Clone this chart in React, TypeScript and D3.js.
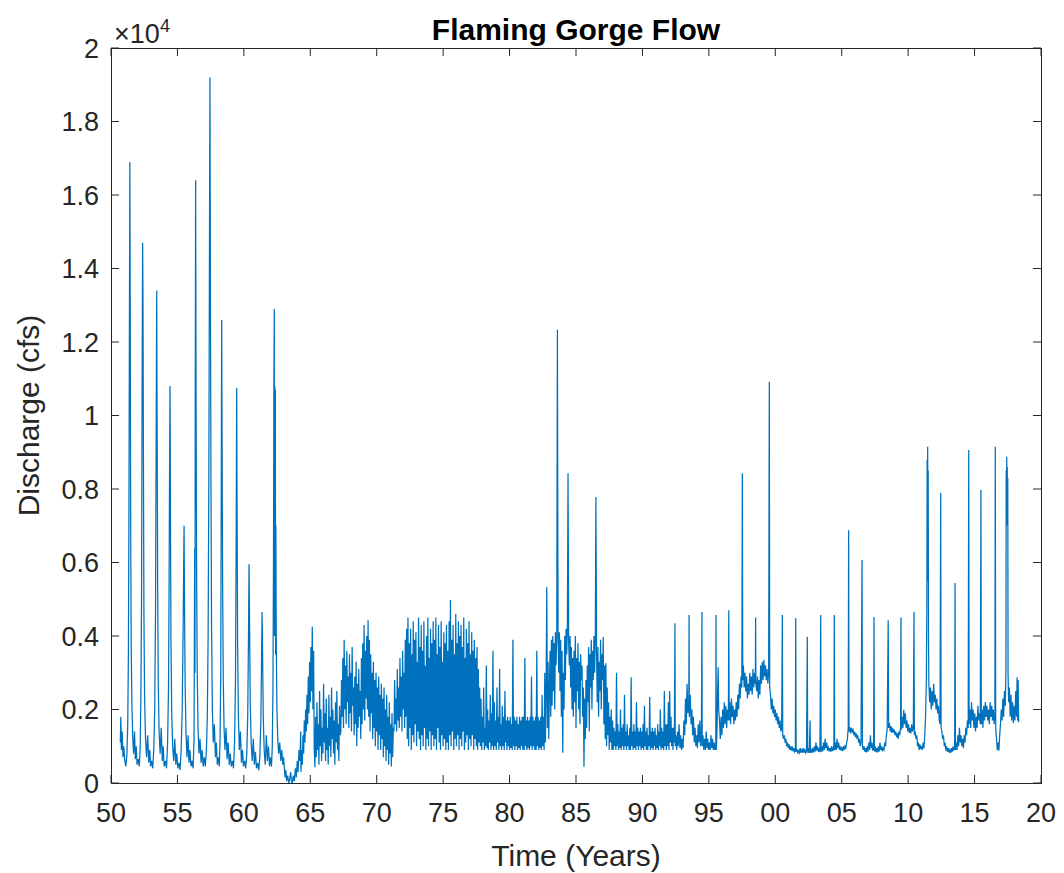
import React from "react";
import * as d3 from "d3";

// ---------- DATA (year, discharge cfs) ----------
// Pre-dam era (snowmelt peaks)
const preDam: [number, number][] = [
  [1950.70, 1100],[1950.74, 1800],[1950.78, 900],[1950.84, 1400],[1950.90, 700],[1950.96, 1000],
  [1951.04, 600],[1951.12, 450],[1951.20, 800],[1951.26, 1600],[1951.31, 3500],[1951.35, 7500],[1951.39, 13000],[1951.42, 16900],[1951.45, 12500],[1951.48, 7000],[1951.52, 3800],[1951.57, 2200],[1951.63, 1300],[1951.70, 800],[1951.77, 1400],[1951.83, 650],[1951.90, 1000],[1951.96, 500],
  [1952.05, 650],[1952.13, 450],[1952.20, 1000],[1952.25, 2400],[1952.30, 5000],[1952.34, 10500],[1952.38, 14700],[1952.41, 13000],[1952.44, 9000],[1952.48, 4500],[1952.53, 2300],[1952.60, 1200],[1952.68, 700],[1952.76, 1300],[1952.84, 550],[1952.92, 900],[1952.98, 450],
  [1953.06, 600],[1953.14, 400],[1953.22, 900],[1953.29, 2000],[1953.35, 4600],[1953.40, 9500],[1953.44, 13400],[1953.47, 10000],[1953.51, 5500],[1953.56, 2600],[1953.62, 1400],[1953.70, 800],[1953.78, 1500],[1953.86, 600],[1953.93, 1000],
  [1954.00, 450],[1954.10, 600],[1954.18, 400],[1954.26, 1100],[1954.33, 2600],[1954.38, 6000],[1954.42, 9500],[1954.44, 10800],[1954.47, 8000],[1954.51, 4000],[1954.57, 1900],[1954.64, 1000],[1954.72, 600],[1954.80, 1200],[1954.88, 500],[1954.95, 800],
  [1955.03, 400],[1955.12, 550],[1955.20, 350],[1955.28, 900],[1955.36, 2000],[1955.43, 4200],[1955.48, 6300],[1955.50, 7000],[1955.53, 5000],[1955.58, 2700],[1955.64, 1400],[1955.72, 700],[1955.80, 1300],[1955.87, 550],[1955.94, 900],
  [1956.02, 450],[1956.10, 600],[1956.18, 400],[1956.25, 1200],[1956.30, 6400],[1956.32, 3000],[1956.34, 10000],[1956.37, 16400],[1956.40, 11000],[1956.44, 6000],[1956.49, 3000],[1956.55, 1500],[1956.62, 800],[1956.70, 1200],[1956.78, 550],[1956.86, 900],[1956.94, 450],
  [1957.02, 700],[1957.10, 450],[1957.18, 900],[1957.25, 1800],[1957.31, 4000],[1957.36, 8000],[1957.40, 13000],[1957.43, 17000],[1957.45, 19200],[1957.48, 14000],[1957.52, 8500],[1957.57, 4200],[1957.63, 2000],[1957.70, 1100],[1957.78, 1600],[1957.86, 700],[1957.93, 1100],
  [1958.00, 500],[1958.08, 700],[1958.15, 450],[1958.21, 1200],[1958.26, 3000],[1958.30, 8000],[1958.33, 12600],[1958.36, 9500],[1958.40, 5500],[1958.45, 2800],[1958.51, 1500],[1958.58, 900],[1958.66, 1500],[1958.74, 650],[1958.82, 1100],[1958.90, 500],[1958.97, 800],
  [1959.05, 450],[1959.14, 600],[1959.22, 400],[1959.30, 1100],[1959.37, 2800],[1959.42, 6500],[1959.46, 10750],[1959.49, 7500],[1959.53, 3800],[1959.59, 1800],[1959.66, 900],[1959.74, 1400],[1959.82, 550],[1959.90, 900],[1959.97, 450],
  [1960.06, 600],[1960.14, 400],[1960.22, 800],[1960.29, 1800],[1960.35, 4000],[1960.39, 5950],[1960.43, 4300],[1960.48, 2200],[1960.55, 1100],[1960.63, 600],[1960.71, 1200],[1960.79, 500],[1960.87, 850],[1960.95, 400],
  [1961.04, 550],[1961.12, 350],[1961.20, 700],[1961.28, 1700],[1961.33, 3300],[1961.37, 4650],[1961.41, 3500],[1961.46, 1800],[1961.53, 900],[1961.61, 500],[1961.69, 1300],[1961.77, 600],[1961.85, 1000],[1961.93, 450],
  [1962.00, 700],[1962.08, 450],[1962.14, 1000],[1962.19, 2600],[1962.23, 6000],[1962.26, 10700],[1962.29, 12900],[1962.31, 4000],[1962.33, 10800],[1962.35, 5000],[1962.37, 10700],[1962.39, 3500],[1962.41, 7000],[1962.44, 3800],[1962.49, 2000],[1962.55, 1200],[1962.62, 800],[1962.70, 1100],[1962.78, 600],[1962.86, 900],[1962.93, 500],[1962.99, 700],
];

// Dam closure / reservoir filling
const closure: [number, number][] = [
  [1963.05, 400],[1963.10, 150],[1963.16, 350],[1963.22, 50],[1963.30, 200],[1963.38, 0],[1963.45, 100],[1963.52, 300],[1963.58, 50],[1963.65, 0],[1963.72, 200],[1963.80, 50],[1963.88, 400],[1963.95, 150],[1964.02, 600],[1964.08, 300],[1964.15, 900],[1964.22, 600],[1964.28, 1400],
];

// Dense hydropower-fluctuation eras, sampled every 0.05 yr
const sampleStep = 0.05;

const eraAStart = 1964.30;
const eraA: number[] = [
  300, 900, 500, 1300, 800, 1700, 1100, 2000, 1400, 2400, 1600, 2900, 1900, 3300, 2200, 3700, 2500, 4250, 2000, 3600,
  900, 430, 1800, 700, 2200, 900, 1600, 500, 2500, 1000, 2000, 600, 1500, 800, 2700, 1100, 1900, 600, 2300, 900,
  1500, 500, 2400, 1000, 1800, 700, 2600, 1200, 2000, 800, 1700, 500, 2200, 1100, 2500, 900, 1600, 600, 2100, 1300,
  1400, 2800, 1800, 3400, 1500, 3900, 2000, 3200, 1600, 3600, 2200, 2900, 1500, 3500, 1900, 3000, 1400, 3700, 2100, 2600,
  1300, 2900, 1600, 3300, 1000, 2700, 1500, 3100, 1800, 2500, 1200, 3400, 1600, 3800, 2000, 4300, 1700, 3600, 2300, 4000,
  2000, 4430, 1800, 3900, 1400, 3500, 1900, 3000, 1200, 3300, 1500, 2800, 1000, 3000, 1400, 2600, 900, 2900, 1300, 2400,
  900, 2700, 1200, 2300, 700, 2600, 1000, 2000, 600, 2400, 900, 1800, 500, 2200, 800, 1600, 450, 1900, 700, 1500,
  1400, 2800, 1600, 2300, 1400, 3100, 1700, 2600, 1500, 3400, 1800, 2900, 1400, 3600, 2000, 3000, 1500, 3900, 1800, 4200,
];

const eraBStart = 1972.30;
const eraB: number[] = [
  1200, 4500, 1000, 3800, 1500, 4200, 900, 3500, 1300, 4400, 1100, 3900, 1600, 4100, 1000, 3300, 1400, 4500, 1200, 3700,
  900, 4300, 1300, 3600, 1000, 4400, 1500, 3200, 900, 4000, 1200, 4500, 1000, 3400, 1400, 4200, 900, 3800, 1300, 4400,
  1000, 3900, 1200, 4500, 900, 3500, 1500, 4300, 1100, 3700, 900, 4400, 1300, 3300, 1000, 4100, 1200, 3800, 900, 4300,
  1100, 3600, 900, 4400, 1300, 4980, 1000, 3900, 1400, 4300, 900, 3500, 1200, 4600, 1000, 3800, 1300, 4400, 900, 4000,
  1200, 4300, 1000, 3700, 1400, 4500, 900, 3400, 1100, 4200, 1300, 3800, 900, 4400, 1200, 3500, 1000, 4100, 1300, 3600,
  900, 3900, 1200, 3400, 1000, 3700, 900, 3100, 1100, 2600,
];

const eraCStart = 1977.80;
const eraC: number[] = [
  1000, 2300, 900, 1800, 1100, 2600, 900, 1500, 1000, 3200, 950, 2000, 900, 1700, 1100, 2400, 900, 1900, 1000, 3600,
  900, 2200, 1000, 1700, 900, 2600, 1100, 1800, 900, 3100, 1000, 1600, 900, 2100, 1000, 1800, 900, 2500, 1100, 1700,
  900, 1800, 1000, 1700, 900, 1800, 950, 1600, 900, 3900, 1000, 1800, 900, 1700, 1000, 1800, 900, 1600, 950, 1800,
  900, 1700, 1000, 1800, 900, 1800, 900, 3400, 1000, 1700, 900, 1800, 950, 1700, 900, 1800, 1000, 2900, 900, 1800,
  1000, 1700, 900, 1800, 900, 3600, 1000, 1800, 900, 1700, 950, 1800, 900, 2400, 1000, 1800, 900, 3000, 1100, 2500,
];

const eraDStart = 1982.80;
const eraD: number[] = [
  5330, 1500, 3300, 1200, 2600, 3600, 1800, 3900, 2100, 4000, 2500, 3800, 2000, 4100, 3200, 4000, 12330, 4000, 3000, 4100,
  2500, 3900, 1800, 3600, 820, 3000, 2000, 4000, 2800, 4200, 3500, 4100, 8430, 3800, 3200, 4000, 2600, 3700, 2000, 3400,
  1800, 3600, 2200, 4000, 1500, 3400, 2500, 3800, 2000, 3300, 1600, 3500, 2800, 3200, 1800, 2600, 440, 2300, 1200, 2800,
  1500, 3200, 2200, 3700, 1400, 3500, 2600, 3900, 2000, 3600, 2800, 4000, 3000, 3800, 7780, 3500, 2200, 3700, 1800, 3300,
  2500, 3900, 2000, 3500, 2800, 3970, 1600, 3200, 1200, 3260, 1000, 2600, 1300, 2200, 900, 1800, 1100, 2000, 900, 1700,
];

const eraEStart = 1987.80;
const eraE: number[] = [
  900, 1500, 1000, 1400, 900, 3000, 1000, 1600, 900, 1400, 950, 2000, 900, 1500, 1000, 1600, 900, 2400, 1000, 1400,
  900, 1600, 1000, 1300, 900, 1500, 900, 2880, 1000, 1400, 900, 1600, 950, 1400, 900, 2200, 1000, 1500, 900, 1400,
  1000, 1500, 900, 1400, 950, 1600, 900, 2100, 1000, 1400, 900, 1500, 900, 1300, 1000, 2340, 900, 1400, 950, 1500,
  900, 1400, 1000, 1500, 900, 1300, 950, 1600, 900, 1400, 1000, 2000, 900, 1500, 950, 1400, 900, 2500, 1000, 1600,
  900, 1600, 1000, 2200, 900, 2500, 1100, 1800, 1000, 1500, 900,
];

// Post-1992 operations
const modern: [number, number][] = [
  [1992.35, 1500],[1992.40, 1100],[1992.45, 4350],[1992.47, 1000],[1992.52, 1300],[1992.58, 900],[1992.64, 1400],[1992.70, 1000],[1992.76, 1600],[1992.82, 950],[1992.88, 1300],[1992.94, 900],[1993.00, 1200],[1993.06, 950],[1993.12, 1700],[1993.18, 1300],[1993.24, 2300],[1993.30, 1600],[1993.36, 2700],[1993.42, 1900],[1993.49, 2200],[1993.51, 4570],[1993.53, 1800],[1993.60, 2400],[1993.66, 1600],[1993.72, 2000],[1993.78, 1300],[1993.84, 1800],[1993.90, 1100],[1993.96, 1500],
  [1994.02, 1000],[1994.08, 1300],[1994.14, 950],[1994.20, 1600],[1994.26, 1100],[1994.32, 1700],[1994.38, 1000],[1994.44, 1400],[1994.48, 4650],[1994.50, 1000],[1994.56, 1300],[1994.62, 900],[1994.68, 1200],[1994.74, 900],[1994.80, 1400],[1994.86, 950],[1994.92, 1200],[1994.98, 900],
  [1995.04, 1100],[1995.10, 900],[1995.16, 1300],[1995.22, 950],[1995.28, 1200],[1995.34, 900],[1995.40, 1100],[1995.46, 900],[1995.52, 1000],[1995.54, 4570],[1995.56, 900],[1995.62, 1500],[1995.66, 2500],[1995.70, 3150],[1995.74, 2000],[1995.80, 1700],[1995.86, 1200],[1995.92, 1800],[1995.98, 1300],
  [1996.04, 2000],[1996.10, 1500],[1996.16, 2200],[1996.22, 1600],[1996.28, 2100],[1996.34, 1500],[1996.40, 2000],[1996.47, 1700],[1996.50, 4700],[1996.53, 1700],[1996.58, 2200],[1996.64, 1600],[1996.70, 2300],[1996.76, 1800],[1996.82, 2100],[1996.88, 1600],[1996.94, 2000],
  [1997.00, 1700],[1997.06, 2200],[1997.12, 1800],[1997.18, 2400],[1997.24, 2000],[1997.30, 2700],[1997.36, 2300],[1997.42, 2900],[1997.48, 2600],[1997.52, 8430],[1997.55, 2800],[1997.60, 3200],[1997.66, 2600],[1997.72, 3000],[1997.78, 2500],[1997.84, 2900],[1997.90, 2300],[1997.96, 2700],
  [1998.02, 2400],[1998.08, 3000],[1998.14, 2500],[1998.20, 2900],[1998.26, 2400],[1998.32, 3100],[1998.38, 2600],[1998.44, 3000],[1998.50, 2700],[1998.52, 4500],[1998.54, 2700],[1998.60, 2500],[1998.66, 2900],[1998.72, 2300],[1998.78, 2800],[1998.84, 2400],[1998.90, 3200],[1998.96, 2700],
  [1999.02, 3300],[1999.08, 2800],[1999.14, 3350],[1999.20, 2900],[1999.26, 3200],[1999.32, 2800],[1999.38, 3100],[1999.44, 2700],[1999.50, 3000],[1999.55, 10920],[1999.58, 2600],[1999.64, 2400],[1999.70, 2000],[1999.76, 2300],[1999.82, 1900],[1999.88, 2100],[1999.94, 1800],
  [2000.00, 2000],[2000.06, 1700],[2000.12, 1900],[2000.18, 1600],[2000.24, 1800],[2000.30, 1500],[2000.36, 1700],[2000.42, 1400],[2000.48, 1500],[2000.53, 4570],[2000.56, 1300],[2000.62, 1200],[2000.68, 1300],[2000.74, 1100],[2000.80, 1200],[2000.86, 1000],[2000.92, 1100],[2000.98, 950],
  [2001.04, 1050],[2001.10, 900],[2001.16, 1000],[2001.22, 880],[2001.28, 1000],[2001.34, 860],[2001.40, 950],[2001.46, 850],[2001.51, 900],[2001.54, 4490],[2001.57, 850],[2001.63, 900],[2001.69, 820],[2001.75, 880],[2001.81, 820],[2001.87, 950],[2001.93, 820],[2001.99, 900],
  [2002.05, 830],[2002.11, 950],[2002.17, 820],[2002.23, 900],[2002.29, 820],[2002.35, 880],[2002.41, 3980],[2002.44, 820],[2002.50, 900],[2002.56, 820],[2002.62, 1700],[2002.64, 830],[2002.70, 900],[2002.76, 820],[2002.82, 950],[2002.88, 830],[2002.94, 1000],
  [2003.00, 850],[2003.06, 1100],[2003.12, 880],[2003.18, 1000],[2003.24, 850],[2003.30, 950],[2003.36, 840],[2003.42, 4570],[2003.45, 850],[2003.51, 1000],[2003.57, 860],[2003.63, 1100],[2003.69, 900],[2003.75, 1200],[2003.81, 950],[2003.87, 1100],[2003.93, 880],[2003.99, 1000],
  [2004.05, 860],[2004.11, 950],[2004.17, 850],[2004.23, 1000],[2004.29, 870],[2004.35, 950],[2004.41, 880],[2004.44, 4570],[2004.47, 900],[2004.53, 1100],[2004.59, 900],[2004.65, 1200],[2004.71, 950],[2004.77, 1100],[2004.83, 900],[2004.89, 1000],[2004.95, 880],
  [2005.01, 950],[2005.07, 870],[2005.13, 1000],[2005.19, 900],[2005.25, 1000],[2005.31, 950],[2005.37, 1100],[2005.43, 1200],[2005.49, 1500],[2005.52, 6880],[2005.55, 1400],[2005.61, 1520],[2005.67, 1350],[2005.73, 1500],[2005.79, 1400],[2005.85, 1450],[2005.91, 1300],[2005.97, 1400],
  [2006.03, 1250],[2006.09, 1350],[2006.15, 1200],[2006.21, 1300],[2006.27, 1100],[2006.33, 1200],[2006.39, 1000],[2006.45, 1100],[2006.53, 6070],[2006.56, 1000],[2006.62, 900],[2006.68, 1000],[2006.74, 850],[2006.80, 950],[2006.86, 830],[2006.92, 1000],[2006.98, 850],
  [2007.04, 1100],[2007.10, 900],[2007.16, 1300],[2007.22, 950],[2007.28, 1100],[2007.34, 880],[2007.40, 950],[2007.43, 4520],[2007.46, 860],[2007.52, 1000],[2007.58, 840],[2007.64, 950],[2007.70, 830],[2007.76, 1000],[2007.82, 850],[2007.88, 1100],[2007.94, 900],
  [2008.00, 1000],[2008.06, 860],[2008.12, 950],[2008.18, 900],[2008.24, 1100],[2008.30, 1000],[2008.36, 1300],[2008.42, 1450],[2008.50, 4430],[2008.53, 1500],[2008.59, 1630],[2008.65, 1400],[2008.71, 1550],[2008.77, 1360],[2008.83, 1500],[2008.89, 1380],[2008.95, 1450],
  [2009.01, 1300],[2009.07, 1400],[2009.13, 1250],[2009.19, 1350],[2009.25, 1200],[2009.31, 1400],[2009.37, 1300],[2009.43, 1500],[2009.46, 4500],[2009.49, 1450],[2009.55, 1800],[2009.61, 1500],[2009.67, 1990],[2009.73, 1600],[2009.79, 1900],[2009.85, 1500],[2009.91, 1700],[2009.97, 1400],
  [2010.03, 1600],[2010.09, 1360],[2010.15, 1500],[2010.21, 1350],[2010.27, 1600],[2010.33, 1400],[2010.39, 1500],[2010.44, 4660],[2010.47, 1300],[2010.53, 1400],[2010.59, 1200],[2010.65, 1300],[2010.71, 1000],[2010.77, 1100],[2010.83, 900],[2010.89, 1050],[2010.95, 920],
  [2011.01, 1000],[2011.07, 900],[2011.13, 1100],[2011.19, 950],[2011.25, 1300],[2011.31, 1800],[2011.37, 2800],[2011.41, 5000],[2011.43, 8800],[2011.45, 6000],[2011.47, 9150],[2011.49, 5500],[2011.51, 8500],[2011.53, 4000],[2011.56, 2700],[2011.62, 2200],[2011.68, 2600],[2011.74, 2000],[2011.80, 2500],[2011.86, 2100],[2011.92, 2700],[2011.98, 2200],
  [2012.04, 2400],[2012.10, 2000],[2012.16, 2300],[2012.22, 1900],[2012.28, 2100],[2012.34, 1700],[2012.40, 1600],[2012.45, 7890],[2012.48, 1500],[2012.54, 1400],[2012.60, 1200],[2012.66, 1300],[2012.72, 1000],[2012.78, 1100],[2012.84, 880],[2012.90, 1000],[2012.96, 850],
  [2013.02, 950],[2013.08, 830],[2013.14, 900],[2013.20, 820],[2013.26, 950],[2013.32, 850],[2013.38, 1000],[2013.44, 880],[2013.50, 950],[2013.53, 5440],[2013.56, 900],[2013.62, 1100],[2013.68, 900],[2013.74, 1300],[2013.80, 1000],[2013.86, 1500],[2013.92, 1100],[2013.98, 1300],
  [2014.04, 1000],[2014.10, 1200],[2014.16, 950],[2014.22, 1300],[2014.28, 1100],[2014.34, 1500],[2014.40, 1300],[2014.46, 1700],[2014.52, 1500],[2014.56, 9060],[2014.59, 1600],[2014.65, 2000],[2014.71, 1500],[2014.77, 2200],[2014.83, 1700],[2014.89, 2000],[2014.95, 1500],
  [2015.01, 1900],[2015.07, 1400],[2015.13, 1800],[2015.19, 1500],[2015.25, 2100],[2015.31, 1700],[2015.37, 1900],[2015.43, 1600],[2015.48, 7970],[2015.51, 1600],[2015.57, 2000],[2015.63, 1500],[2015.69, 2100],[2015.75, 1700],[2015.81, 2200],[2015.87, 1800],[2015.93, 2100],[2015.99, 1700],
  [2016.05, 2000],[2016.11, 1600],[2016.17, 2200],[2016.23, 1800],[2016.29, 2100],[2016.35, 1700],[2016.41, 2000],[2016.47, 1600],[2016.53, 1900],[2016.56, 9150],[2016.59, 1500],[2016.65, 1200],[2016.71, 900],[2016.77, 1100],[2016.83, 880],[2016.89, 1300],[2016.95, 1600],
  [2017.01, 2000],[2017.07, 1700],[2017.13, 2300],[2017.19, 1800],[2017.25, 2500],[2017.31, 2100],[2017.36, 3000],[2017.38, 8500],[2017.40, 7100],[2017.42, 8880],[2017.44, 7000],[2017.46, 8600],[2017.48, 7100],[2017.50, 8300],[2017.52, 3000],[2017.56, 2200],[2017.62, 2600],[2017.68, 1800],[2017.74, 2400],[2017.80, 1700],[2017.86, 2200],[2017.92, 1630],[2017.98, 2100],
  [2018.04, 1700],[2018.10, 2500],[2018.16, 1800],[2018.20, 2880],[2018.24, 1700],[2018.28, 2800],[2018.32, 1650],
];

const xTickYears: number[] = [1950, 1955, 1960, 1965, 1970, 1975, 1980, 1985, 1990, 1995, 2000, 2005, 2010, 2015, 2020];
const yTickValues: number[] = [0, 2000, 4000, 6000, 8000, 10000, 12000, 14000, 16000, 18000, 20000];

const titleText = "Flaming Gorge Flow";
const xLabelText = "Time (Years)";
const yLabelText = "Discharge (cfs)";

// ---------- LAYOUT ----------
const W = 1064;
const H = 873;
const M = { left: 111, right: 1041, top: 48, bottom: 783 };
const AXIS_COLOR = "#262626";
const LINE_COLOR = "#0072BD";
const FONT = "'Liberation Sans', Arial, Helvetica, sans-serif";
const TICK_LEN = 8;

function expand(start: number, values: number[]): [number, number][] {
  return values.map((v, i) => [start + i * sampleStep, v]);
}

export default function App() {
  const x = d3.scaleLinear().domain([1950, 2020]).range([M.left, M.right]);
  const y = d3.scaleLinear().domain([0, 20000]).range([M.bottom, M.top]);

  const series: [number, number][] = [
    ...preDam,
    ...closure,
    ...expand(eraAStart, eraA),
    ...expand(eraBStart, eraB),
    ...expand(eraCStart, eraC),
    ...expand(eraDStart, eraD),
    ...expand(eraEStart, eraE),
    ...modern,
  ];

  const line = d3
    .line<[number, number]>()
    .x((d) => x(d[0]))
    .y((d) => y(d[1]));

  const fmtY = (v: number) => String(+(v / 10000).toFixed(1));
  const fmtX = (yr: number) => String(yr % 100).padStart(2, "0");

  return (
    <svg
      width={W}
      height={H}
      style={{ position: "absolute", left: 0, top: 0, background: "#fff" }}
      fontFamily={FONT}
    >
      <rect x={0} y={0} width={W} height={H} fill="#fff" />
      <defs>
        <clipPath id="plotClip">
          <rect x={M.left} y={M.top} width={M.right - M.left} height={M.bottom - M.top} />
        </clipPath>
      </defs>

      {/* data line */}
      <path
        d={line(series) || ""}
        fill="none"
        stroke={LINE_COLOR}
        strokeWidth={1.25}
        strokeLinejoin="miter"
        clipPath="url(#plotClip)"
      />

      {/* axes box */}
      <rect
        x={M.left}
        y={M.top}
        width={M.right - M.left}
        height={M.bottom - M.top}
        fill="none"
        stroke={AXIS_COLOR}
        strokeWidth={1}
        shapeRendering="crispEdges"
      />

      {/* x ticks */}
      {xTickYears.map((yr) => {
        const px = x(yr);
        return (
          <g key={"xt" + yr}>
            <line x1={px} x2={px} y1={M.bottom} y2={M.bottom - TICK_LEN} stroke={AXIS_COLOR} strokeWidth={1} />
            <line x1={px} x2={px} y1={M.top} y2={M.top + TICK_LEN} stroke={AXIS_COLOR} strokeWidth={1} />
            <text x={px} y={M.bottom + 39} textAnchor="middle" fontSize={27} fill={AXIS_COLOR}>
              {fmtX(yr)}
            </text>
          </g>
        );
      })}

      {/* y ticks */}
      {yTickValues.map((v) => {
        const py = y(v);
        return (
          <g key={"yt" + v}>
            <line x1={M.left} x2={M.left + TICK_LEN} y1={py} y2={py} stroke={AXIS_COLOR} strokeWidth={1} />
            <line x1={M.right} x2={M.right - TICK_LEN} y1={py} y2={py} stroke={AXIS_COLOR} strokeWidth={1} />
            <text x={M.left - 12} y={py + 9.5} textAnchor="end" fontSize={27} fill={AXIS_COLOR}>
              {fmtY(v)}
            </text>
          </g>
        );
      })}

      {/* exponent label */}
      <text x={M.left + 3} y={M.top - 5} fontSize={27} fill={AXIS_COLOR}>
        ×10
      </text>
      <text x={M.left + 49} y={M.top - 16} fontSize={18} fill={AXIS_COLOR}>
        4
      </text>

      {/* title */}
      <text x={(M.left + M.right) / 2} y={40} textAnchor="middle" fontSize={30} fontWeight="bold" fill="#000">
        {titleText}
      </text>

      {/* x label */}
      <text x={(M.left + M.right) / 2} y={866} textAnchor="middle" fontSize={30} fill={AXIS_COLOR}>
        {xLabelText}
      </text>

      {/* y label */}
      <text
        transform={`translate(39, ${(M.top + M.bottom) / 2}) rotate(-90)`}
        textAnchor="middle"
        fontSize={30}
        fill={AXIS_COLOR}
      >
        {yLabelText}
      </text>
    </svg>
  );
}
